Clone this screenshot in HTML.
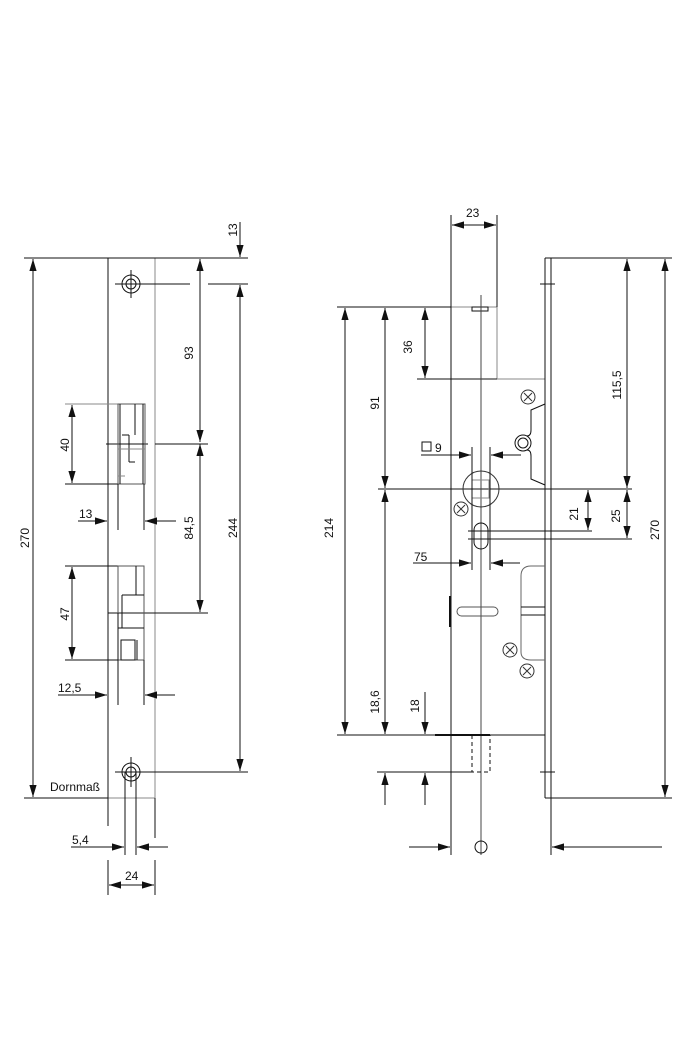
<!DOCTYPE html>
<html><head><meta charset="utf-8"><style>
html,body{margin:0;padding:0;background:#fff}
svg{display:block}
text{font-family:"Liberation Sans",sans-serif;font-size:12px;fill:#111}
</style></head><body>
<svg width="690" height="1055" viewBox="0 0 690 1055" xmlns="http://www.w3.org/2000/svg">
<defs>
<marker id="a" viewBox="0 0 10 10" refX="10" refY="5" markerWidth="12" markerHeight="12" markerUnits="userSpaceOnUse" orient="auto-start-reverse"><path d="M0,2L10,5L0,8z" fill="#111"/></marker>
</defs>
<g stroke="#111" stroke-width="1" fill="none">
<rect x="108" y="258" width="47" height="540" stroke="#888"/>
<line x1="108" y1="258" x2="108" y2="826"/>
<line x1="155" y1="798" x2="155" y2="838"/>
<line x1="24" y1="258" x2="248" y2="258"/>
<line x1="24" y1="798" x2="108" y2="798"/>
<line x1="33" y1="259" x2="33" y2="797" marker-start="url(#a)" marker-end="url(#a)"/>
<circle cx="131" cy="284" r="9"/><circle cx="131" cy="284" r="5"/>
<line x1="131" y1="270" x2="131" y2="298"/>
<line x1="115" y1="284" x2="190" y2="284"/><line x1="208" y1="284" x2="248" y2="284"/>
<circle cx="131" cy="772" r="9"/><circle cx="131" cy="772" r="5"/>
<line x1="131" y1="757" x2="131" y2="787"/>
<line x1="115" y1="772" x2="248" y2="772"/>
<line x1="240" y1="222" x2="240" y2="257" marker-end="url(#a)"/>
<line x1="240" y1="285" x2="240" y2="771" marker-start="url(#a)" marker-end="url(#a)"/>
<line x1="200" y1="259" x2="200" y2="442" marker-start="url(#a)" marker-end="url(#a)"/>
<line x1="200" y1="444" x2="200" y2="612" marker-start="url(#a)" marker-end="url(#a)"/>
<line x1="155" y1="444" x2="208" y2="444"/><line x1="106" y1="444" x2="148" y2="444"/>
<line x1="108" y1="613" x2="208" y2="613"/>
<line x1="65" y1="404" x2="145" y2="404" stroke="#888"/>
<line x1="65" y1="484" x2="145" y2="484"/>
<line x1="72" y1="405" x2="72" y2="483" marker-start="url(#a)" marker-end="url(#a)"/>
<rect x="118" y="404" width="27" height="80" stroke="#555"/>
<line x1="120" y1="404" x2="120" y2="484"/>
<line x1="135" y1="404" x2="135" y2="435"/><line x1="143" y1="404" x2="143" y2="484"/>
<line x1="122" y1="435" x2="129" y2="435"/><line x1="129" y1="435" x2="129" y2="462"/><line x1="129" y1="462" x2="135" y2="462"/>
<line x1="118" y1="449" x2="145" y2="449" stroke="#888"/>
<line x1="118" y1="476" x2="125" y2="476" stroke="#888"/>
<line x1="118" y1="484" x2="118" y2="530"/><line x1="144" y1="484" x2="144" y2="530"/>
<line x1="78" y1="521" x2="107" y2="521" marker-end="url(#a)"/>
<line x1="176" y1="521" x2="145" y2="521" marker-end="url(#a)"/>
<line x1="65" y1="566" x2="144" y2="566"/><line x1="65" y1="660" x2="144" y2="660"/>
<line x1="72" y1="567" x2="72" y2="659" marker-start="url(#a)" marker-end="url(#a)"/>
<rect x="118" y="566" width="26" height="94" stroke="#555"/>
<line x1="136" y1="566" x2="136" y2="595"/>
<line x1="122" y1="595" x2="144" y2="595"/><line x1="122" y1="595" x2="122" y2="628"/>
<line x1="118" y1="628" x2="144" y2="628"/>
<rect x="121" y="640" width="14" height="20"/><line x1="137" y1="640" x2="137" y2="660"/>
<line x1="118" y1="613" x2="118" y2="705"/><line x1="144" y1="660" x2="144" y2="705"/>
<line x1="58" y1="695" x2="107" y2="695" marker-end="url(#a)"/>
<line x1="175" y1="695" x2="145" y2="695" marker-end="url(#a)"/>
<line x1="125" y1="772" x2="125" y2="855"/><line x1="136" y1="772" x2="136" y2="855"/>
<line x1="71" y1="847" x2="124" y2="847" marker-end="url(#a)"/>
<line x1="168" y1="847" x2="137" y2="847" marker-end="url(#a)"/>
<line x1="108" y1="860" x2="108" y2="895"/><line x1="155" y1="860" x2="155" y2="895"/>
<line x1="109" y1="885" x2="154" y2="885" marker-start="url(#a)" marker-end="url(#a)"/>

<path d="M451 307 L497 307 L497 379 L545 379" stroke="#888"/>
<line x1="451" y1="215" x2="451" y2="855"/>
<line x1="497" y1="215" x2="497" y2="307"/>
<line x1="452" y1="225" x2="496" y2="225" marker-start="url(#a)" marker-end="url(#a)"/>
<rect x="472" y="307" width="16" height="4"/>
<line x1="545" y1="258" x2="545" y2="798"/><line x1="551" y1="258" x2="551" y2="855"/>
<line x1="545" y1="258" x2="672" y2="258"/><line x1="545" y1="798" x2="672" y2="798"/>
<line x1="540" y1="284" x2="555" y2="284"/><line x1="540" y1="772" x2="555" y2="772"/>
<line x1="337" y1="307" x2="451" y2="307"/>
<line x1="417" y1="379" x2="497" y2="379"/>
<line x1="345" y1="308" x2="345" y2="734" marker-start="url(#a)" marker-end="url(#a)"/>
<line x1="385" y1="308" x2="385" y2="488" marker-start="url(#a)" marker-end="url(#a)"/>
<line x1="385" y1="490" x2="385" y2="734" marker-start="url(#a)" marker-end="url(#a)"/>
<line x1="425" y1="308" x2="425" y2="378" marker-start="url(#a)" marker-end="url(#a)"/>
<line x1="378" y1="489" x2="632" y2="489"/>
<line x1="481" y1="295" x2="481" y2="855" stroke="#444"/>
<circle cx="481" cy="489" r="18" stroke="#333"/>
<rect x="472" y="480" width="17" height="18" stroke="#888"/>
<line x1="472" y1="447" x2="472" y2="570"/><line x1="490" y1="447" x2="490" y2="570"/>
<line x1="421" y1="455" x2="471" y2="455" marker-end="url(#a)"/>
<line x1="521" y1="455" x2="491" y2="455" marker-end="url(#a)"/>
<rect x="422" y="442" width="9" height="9"/>
<path d="M545 404 L531 410 L531 430 M531 456 L531 479 L545 485"/>
<circle cx="523" cy="443" r="8"/><circle cx="523" cy="443" r="5"/>
<path d="M531 430 Q531 436 527 436 M531 456 Q531 450 527 450"/>
<line x1="627" y1="259" x2="627" y2="488" marker-start="url(#a)" marker-end="url(#a)"/>
<line x1="627" y1="490" x2="627" y2="538" marker-start="url(#a)" marker-end="url(#a)"/>
<line x1="588" y1="490" x2="588" y2="530" marker-start="url(#a)" marker-end="url(#a)"/>
<line x1="665" y1="259" x2="665" y2="797" marker-start="url(#a)" marker-end="url(#a)"/>
<line x1="468" y1="531" x2="592" y2="531"/><line x1="468" y1="539" x2="632" y2="539"/>
<rect x="474" y="523" width="14" height="26" rx="7"/>
<line x1="413" y1="563" x2="471" y2="563" marker-end="url(#a)"/>
<line x1="520" y1="563" x2="491" y2="563" marker-end="url(#a)"/>
<path d="M545 566 L531 566 Q521 566 521 576 L521 652 Q521 660 531 660 L545 660" stroke="#666"/>
<line x1="521" y1="607" x2="545" y2="607"/><line x1="521" y1="615" x2="545" y2="615"/>
<rect x="457" y="607" width="41" height="9" rx="4.5" stroke="#555"/>
<line x1="450" y1="596" x2="450" y2="627" stroke-width="2"/>
<g stroke="#333"><circle cx="528" cy="397" r="7"/><path d="M524 393l8 8M532 393l-8 8"/>
<circle cx="461" cy="509" r="7"/><path d="M457 505l8 8M465 505l-8 8"/>
<circle cx="510" cy="650" r="7"/><path d="M506 646l8 8M514 646l-8 8"/>
<circle cx="527" cy="671" r="7"/><path d="M523 667l8 8M531 667l-8 8"/></g>
<line x1="337" y1="735" x2="545" y2="735"/>
<line x1="435" y1="735" x2="490" y2="735" stroke-width="2"/>
<path d="M472 735 L472 772 L490 772 L490 735" stroke-dasharray="4,3"/>
<line x1="377" y1="772" x2="472" y2="772"/>
<line x1="425" y1="692" x2="425" y2="734" marker-end="url(#a)"/>
<line x1="425" y1="805" x2="425" y2="773" marker-end="url(#a)"/>
<line x1="385" y1="805" x2="385" y2="773" marker-end="url(#a)"/>
<line x1="409" y1="847" x2="450" y2="847" marker-end="url(#a)"/>
<line x1="662" y1="847" x2="552" y2="847" marker-end="url(#a)"/>
<circle cx="481" cy="847" r="6"/>
</g>
<g>
<text transform="translate(237,230) rotate(-90)" text-anchor="middle">13</text>
<text transform="translate(193,353) rotate(-90)" text-anchor="middle">93</text>
<text transform="translate(193,528) rotate(-90)" text-anchor="middle">84,5</text>
<text transform="translate(237,528) rotate(-90)" text-anchor="middle">244</text>
<text transform="translate(29,538) rotate(-90)" text-anchor="middle">270</text>
<text transform="translate(69,445) rotate(-90)" text-anchor="middle">40</text>
<text transform="translate(69,614) rotate(-90)" text-anchor="middle">47</text>
<text x="79" y="518">13</text>
<text x="58" y="692">12,5</text>
<text x="50" y="791">Dornmaß</text>
<text x="72" y="844">5,4</text>
<text x="125" y="880">24</text>
<text x="466" y="217">23</text>
<text transform="translate(412,347) rotate(-90)" text-anchor="middle">36</text>
<text transform="translate(379,403) rotate(-90)" text-anchor="middle">91</text>
<text transform="translate(333,528) rotate(-90)" text-anchor="middle">214</text>
<text transform="translate(621,385) rotate(-90)" text-anchor="middle">115,5</text>
<text transform="translate(578,514) rotate(-90)" text-anchor="middle">21</text>
<text transform="translate(620,516) rotate(-90)" text-anchor="middle">25</text>
<text transform="translate(659,530) rotate(-90)" text-anchor="middle">270</text>
<text x="435" y="452">9</text>
<text x="414" y="561">75</text>
<text transform="translate(379,702) rotate(-90)" text-anchor="middle">18,6</text>
<text transform="translate(419,706) rotate(-90)" text-anchor="middle">18</text>
</g>
</svg>
</body></html>
